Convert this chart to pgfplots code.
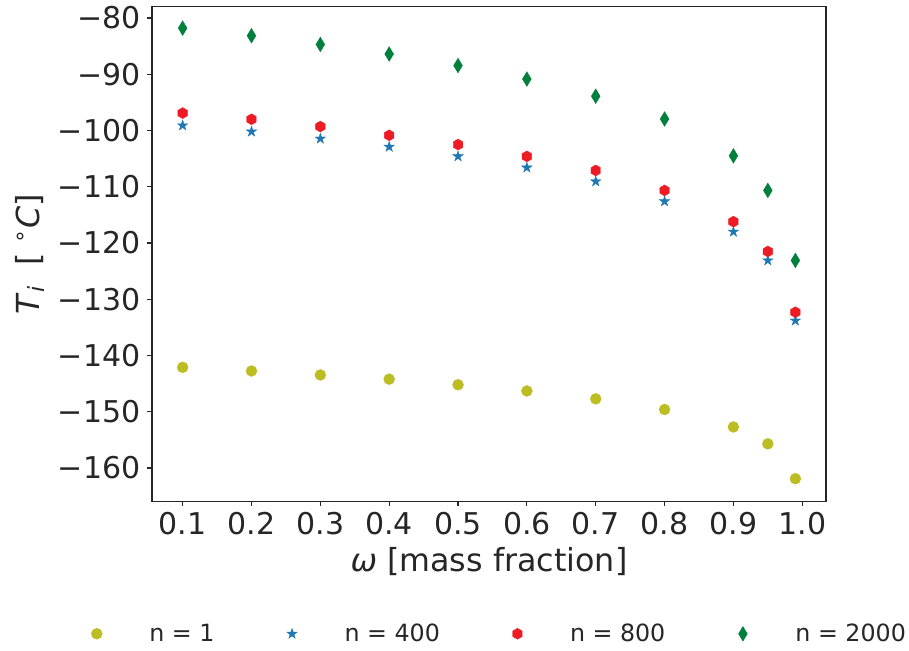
\documentclass[border=0pt]{standalone}
\usepackage{fontspec}
\setmainfont{DejaVu Sans}
\usepackage{pgfplots}
\pgfplotsset{compat=1.18}

\definecolor{cOlive}{RGB}{188,189,34}
\definecolor{cBlue}{RGB}{31,119,180}
\definecolor{cRed}{RGB}{237,28,36}
\definecolor{cGreen}{RGB}{0,128,60}

% filled five-point star
\pgfdeclareplotmark{mstar}{%
  \pgfpathmoveto{\pgfpointpolar{90}{\pgfplotmarksize}}%
  \pgfpathlineto{\pgfpointpolar{126}{0.382\pgfplotmarksize}}%
  \pgfpathlineto{\pgfpointpolar{162}{\pgfplotmarksize}}%
  \pgfpathlineto{\pgfpointpolar{198}{0.382\pgfplotmarksize}}%
  \pgfpathlineto{\pgfpointpolar{234}{\pgfplotmarksize}}%
  \pgfpathlineto{\pgfpointpolar{270}{0.382\pgfplotmarksize}}%
  \pgfpathlineto{\pgfpointpolar{306}{\pgfplotmarksize}}%
  \pgfpathlineto{\pgfpointpolar{342}{0.382\pgfplotmarksize}}%
  \pgfpathlineto{\pgfpointpolar{18}{\pgfplotmarksize}}%
  \pgfpathlineto{\pgfpointpolar{54}{0.382\pgfplotmarksize}}%
  \pgfpathclose\pgfusepathqfillstroke}
% filled hexagon, point up
\pgfdeclareplotmark{mhex}{%
  \pgfpathmoveto{\pgfpointpolar{90}{\pgfplotmarksize}}%
  \pgfpathlineto{\pgfpointpolar{150}{\pgfplotmarksize}}%
  \pgfpathlineto{\pgfpointpolar{210}{\pgfplotmarksize}}%
  \pgfpathlineto{\pgfpointpolar{270}{\pgfplotmarksize}}%
  \pgfpathlineto{\pgfpointpolar{330}{\pgfplotmarksize}}%
  \pgfpathlineto{\pgfpointpolar{30}{\pgfplotmarksize}}%
  \pgfpathclose\pgfusepathqfillstroke}

\begin{document}
\begin{tikzpicture}
\begin{axis}[name=ax,scale only axis,width=505.5pt,height=371.25pt,
 xmin=0.0555,xmax=1.0345,ymin=-166,ymax=-78,
 xtick={0.1,0.2,0.3,0.4,0.5,0.6,0.7,0.8,0.9,1.0},
 xticklabels={0.1,0.2,0.3,0.4,0.5,0.6,0.7,0.8,0.9,1.0},
 ytick={-160,-150,-140,-130,-120,-110,-100,-90,-80},
 yticklabels={−160,−150,−140,−130,−120,−110,−100,−90,−80},
 tick align=outside,major tick length=3.5pt,
 xtick pos=bottom,ytick pos=left,
 tick style={line width=0.9pt,color=black!85},
 axis line style={line width=0.9pt,color=black!85},
 ticklabel style={font=\fontsize{22.5}{27}\selectfont,color=black!85},
 xticklabel style={inner sep=4pt},
 yticklabel style={inner sep=5pt},
 xlabel={\textit{ω} [mass fraction]},
 ylabel={\textit{T}\textsubscript{\textit{i}}\ \ [\ \textsuperscript{∘}\textit{C}]},
 every axis x label/.style={at={(axis description cs:0.5,-0.121)},anchor=center,
   font=\fontsize{23.8}{28}\selectfont,color=black!85},
 every axis y label/.style={at={(axis description cs:-0.181,0.5)},rotate=90,anchor=center,
   font=\fontsize{23.8}{28}\selectfont,color=black!85},
 clip=false,
 legend columns=4,
 legend style={draw=none,fill=none,inner sep=0pt,at={(axis description cs:-0.0926,-0.2667)},anchor=west,
   font=\fontsize{17.8}{21}\selectfont,text=black!85,
   /tikz/every even column/.append style={column sep=51pt}},
 legend image code/.code={\path (-5pt,0pt) (37.2pt,0pt);\draw[#1] plot coordinates {(0pt,0pt)};},
]
\addplot[only marks,mark=*,mark size=4.1pt,mark options={draw=cOlive,fill=cOlive,line width=0.3pt}] coordinates {
 (0.1,-142.1) (0.2,-142.75) (0.3,-143.45) (0.4,-144.2) (0.5,-145.2) (0.6,-146.3)
 (0.7,-147.7) (0.8,-149.6) (0.9,-152.7) (0.95,-155.7) (0.99,-161.9)};
\addlegendentry{n = 1}
\addplot[only marks,mark=mstar,mark size=4.1pt,mark options={draw=cBlue,fill=cBlue,line width=0.3pt}] coordinates {
 (0.1,-99.1) (0.2,-100.2) (0.3,-101.45) (0.4,-102.9) (0.5,-104.6) (0.6,-106.6)
 (0.7,-109.05) (0.8,-112.6) (0.9,-118.0) (0.95,-123.1) (0.99,-133.8)};
\addlegendentry{n = 400}
\addplot[only marks,mark=mhex,mark size=4.1pt,mark options={draw=cRed,fill=cRed,line width=0.3pt}] coordinates {
 (0.1,-96.9) (0.2,-98.0) (0.3,-99.3) (0.4,-100.85) (0.5,-102.5) (0.6,-104.6)
 (0.7,-107.1) (0.8,-110.65) (0.9,-116.2) (0.95,-121.5) (0.99,-132.3)};
\addlegendentry{n = 800}
\addplot[only marks,mark=diamond*,mark size=5.5pt,mark options={draw=cGreen,fill=cGreen,line width=0.3pt,xscale=0.8}] coordinates {
 (0.1,-81.8) (0.2,-83.15) (0.3,-84.7) (0.4,-86.4) (0.5,-88.45) (0.6,-90.85)
 (0.7,-93.9) (0.8,-97.95) (0.9,-104.5) (0.95,-110.65) (0.99,-123.1)};
\addlegendentry{n = 2000}
\coordinate (SW) at (rel axis cs:0,0);
\coordinate (NE) at (rel axis cs:1,1);
\end{axis}
\path ([shift={(-114pt,-111.75pt)}]SW) rectangle ([shift={(62.25pt,3.75pt)}]NE);
\end{tikzpicture}
\end{document}
